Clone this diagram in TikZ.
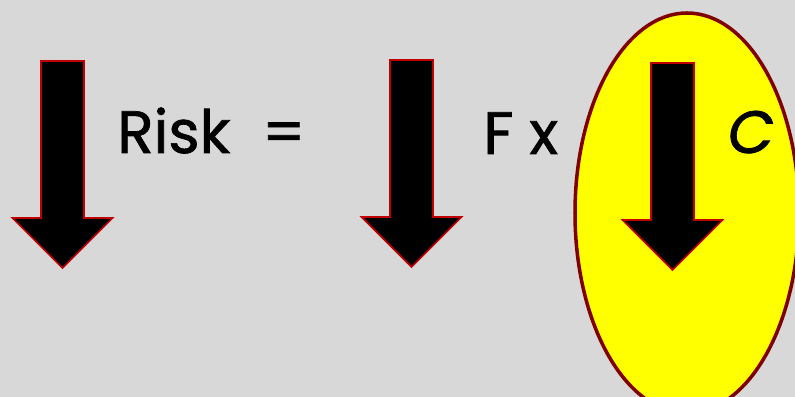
\documentclass[tikz,border=0pt]{standalone}
\usepackage{fontspec}
\setmainfont{Poppins}
\usetikzlibrary{positioning,shapes.geometric}
\definecolor{bggray}{HTML}{D8D8D8}
\definecolor{rimred}{HTML}{C00000}
\definecolor{ovalred}{HTML}{800000}
\definecolor{ovalfill}{HTML}{FFFF00}
\tikzset{
  bigarrow/.style={fill=black,draw=rimred,line width=1pt,line join=miter},
  riskoval/.style={fill=ovalfill,draw=ovalred,line width=2pt},
  word/.style={font=\fontsize{34}{40}\selectfont\addfontfeature{FakeBold=1.2},
    inner sep=0pt,anchor=base west},
  slantword/.style={word,font=\fontsize{34}{40}\selectfont\itshape\addfontfeature{FakeBold=1.2}}
}
% down arrow, given its top centre
\newcommand{\riskarrow}[1]{%
  \draw[bigarrow] (#1) ++(-0.43,0) -- ++(0.86,0) -- ++(0,-3.14) -- ++(0.57,0)
    -- ++(-1,-1) -- ++(-1,1) -- ++(0.57,0) -- cycle;}

\begin{document}
\begin{tikzpicture}
\useasboundingbox (0,0) rectangle (15.9,7.94);
\fill[bggray] (0,0) rectangle (15.9,7.94);
\clip (0,0) rectangle (15.9,7.94);
\node[riskoval,ellipse,minimum width=4.48cm,minimum height=8cm] (oval) at (13.74,3.68) {};
\coordinate (a1) at (1.25,6.72);
\coordinate (a2) at (8.23,6.74);
\coordinate (a3) at (13.45,6.68);
\riskarrow{a1}
\riskarrow{a2}
\riskarrow{a3}
\node[word] (risk) at (2.34,4.88) {Risk\ \ =};
\node[word] (freq) at (9.66,4.86) {F x};
\node[slantword] (cons) at (14.55,4.88) {C};
\end{tikzpicture}
\end{document}
